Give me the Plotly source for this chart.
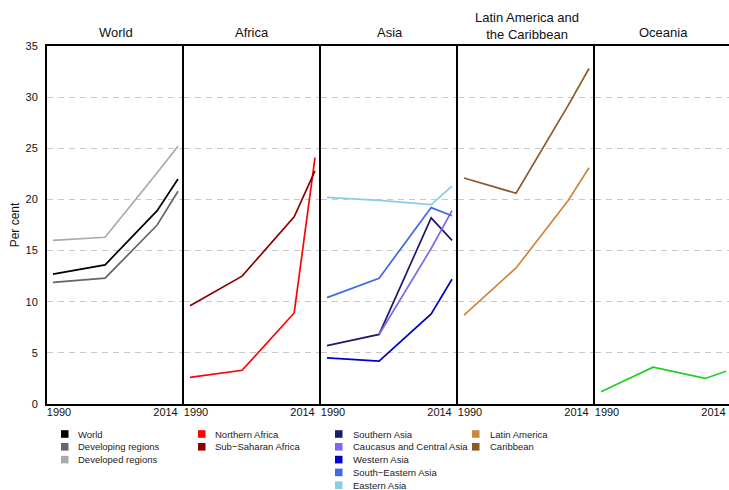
import plotly.graph_objects as go

# ---------------- data ----------------
years = [1990, 2000, 2010, 2014]
tick_labels = ["1990", "2014"]
y_ticks = [0, 5, 10, 15, 20, 25, 30, 35]

panels = ["World", "Africa", "Asia", "Latin America and<br>the Caribbean", "Oceania"]

world_names = ["World", "Developing regions", "Developed regions"]
world_vals = [
    [12.7, 13.6, 18.9, 22.0],
    [11.9, 12.3, 17.5, 20.8],
    [16.0, 16.3, 22.6, 25.2],
]
world_cols = ["#000000", "#666666", "#aaaaaa"]

africa_names = ["Northern Africa", "Sub\u2212Saharan Africa"]
africa_vals = [
    [2.6, 3.3, 8.9, 24.1],
    [9.6, 12.5, 18.3, 22.8],
]
africa_cols = ["#ff0000", "#8b0000"]

asia_names = ["Southern Asia", "Caucasus and Central Asia", "Western Asia",
              "South\u2212Eastern Asia", "Eastern Asia"]
asia_vals = [
    [5.7, 6.8, 18.2, 16.0],
    [None, 6.8, 15.2, 18.9],
    [4.5, 4.2, 8.8, 12.2],
    [10.4, 12.3, 19.2, 18.4],
    [20.2, 19.9, 19.5, 21.3],
]
asia_cols = ["#1c1c6e", "#7b68ee", "#0000cd", "#4169e1", "#87ceeb"]

latam_names = ["Latin America", "Caribbean"]
latam_vals = [
    [8.7, 13.3, 19.9, 23.1],
    [22.1, 20.6, 29.2, 32.8],
]
latam_cols = ["#cd853f", "#8b5a2b"]

oceania_names = ["Oceania"]
oceania_vals = [[1.2, 3.6, 2.5, 3.2]]
oceania_cols = ["#22cc22"]

groups = [
    (world_names, world_vals, world_cols),
    (africa_names, africa_vals, africa_cols),
    (asia_names, asia_vals, asia_cols),
    (latam_names, latam_vals, latam_cols),
    (oceania_names, oceania_vals, oceania_cols),
]

# ---------------- layout geometry ----------------
W, H = 729, 490
ML, MR, MT, MB = 47, 0, 46, 86
plot_w = W - ML - MR
plot_h = H - MT - MB
panel_px = 137
px_per_year = 125 / 24.0
x0 = years[0] - 6 / px_per_year
tickvals = [x0 + 12 / px_per_year, x0 + 118.5 / px_per_year]

FONT = "Liberation Sans, Arial, sans-serif"

fig = go.Figure()
layout = {}
for i, (names, vals, cols) in enumerate(groups):
    k = i + 1
    xa = "x" if k == 1 else f"x{k}"
    ya = "y" if k == 1 else f"y{k}"
    for n, v, c in zip(names, vals, cols):
        fig.add_trace(go.Scatter(x=years, y=v, mode="lines", name=n,
                                 line=dict(color=c, width=1.7),
                                 connectgaps=False, showlegend=False,
                                 xaxis=xa, yaxis=ya))
    d0 = i * panel_px / plot_w
    d1 = min(1.0, (i + 1) * panel_px / plot_w)
    width_px = (d1 - d0) * plot_w
    x1 = x0 + width_px / px_per_year
    layout["xaxis" if k == 1 else f"xaxis{k}"] = dict(
        domain=[d0, d1], range=[x0, x1], anchor=ya,
        tickvals=tickvals, ticktext=tick_labels,
        showgrid=False, zeroline=False,
        showline=True, linecolor="black", linewidth=2, mirror=True,
        ticks="", ticklabelstandoff=-3,
        tickfont=dict(size=11, color="#111", family=FONT),
    )
    layout["yaxis" if k == 1 else f"yaxis{k}"] = dict(
        range=[0, 35], anchor=xa, tickvals=y_ticks,
        showticklabels=(k == 1),
        showgrid=True, gridcolor="#c8c8c8", gridwidth=1.3, griddash="6px,5px",
        zeroline=False, showline=True, linecolor="black", linewidth=2,
        ticks="", ticklabelstandoff=5,
        tickfont=dict(size=11, color="#111", family=FONT),
        title=dict(text="Per cent", font=dict(size=12, color="#111", family=FONT),
                   standoff=3) if k == 1 else None,
    )

annotations = []
shapes = []
for i, t in enumerate(panels):
    d0 = i * panel_px / plot_w
    cx = d0 + panel_px / plot_w / 2
    yc_px = 25.8 if "<br>" in t else 33.0
    annotations.append(dict(text=t, x=cx, y=1 + (MT - yc_px) / plot_h, xref="paper", yref="paper",
                            xanchor="center", yanchor="middle", showarrow=False,
                            font=dict(size=13, color="#111", family=FONT)))

# legend built from the series names/colours (four columns)
legend_cols = [
    (world_names, world_cols, 61, 76),
    (africa_names, africa_cols, 198, 213),
    (asia_names, asia_cols, 335, 351),
    (latam_names, latam_cols, 472, 488),
]
row0 = 434.0
row_step = 12.8
for names, cols, sx, tx in legend_cols:
    for r, (n, c) in enumerate(zip(names, cols)):
        yc = row0 + r * row_step
        shapes.append(dict(type="rect", xref="paper", yref="paper",
                           x0=(sx - ML) / plot_w, x1=(sx + 7.5 - ML) / plot_w,
                           y0=(H - MB - (yc + 3.8)) / plot_h, y1=(H - MB - (yc - 3.8)) / plot_h,
                           fillcolor=c, line=dict(width=0)))
        annotations.append(dict(text=n, x=(tx - ML) / plot_w, y=(H - MB - yc) / plot_h,
                                xref="paper", yref="paper", xanchor="left", yanchor="middle",
                                showarrow=False,
                                font=dict(size=9.5, color="#222", family=FONT)))

fig.update_layout(
    **layout,
    width=W, height=H,
    margin=dict(l=ML, r=MR, t=MT, b=MB, pad=0),
    paper_bgcolor="white", plot_bgcolor="white",
    annotations=annotations, shapes=shapes,
    showlegend=False,
    font=dict(family=FONT),
)

fig.write_html("out.html")
